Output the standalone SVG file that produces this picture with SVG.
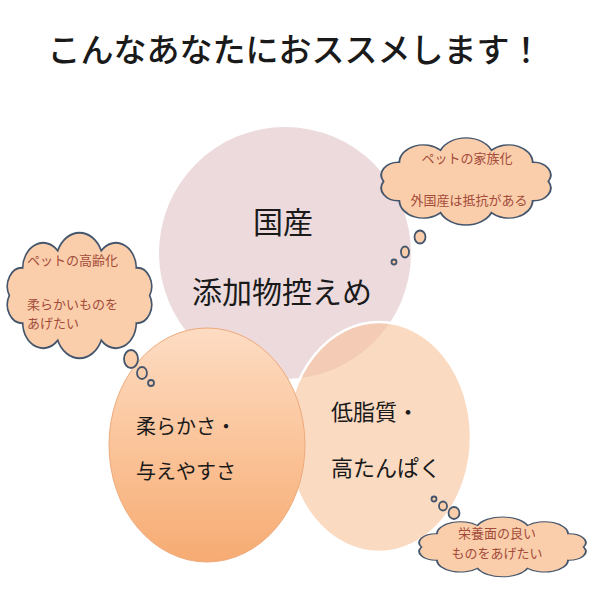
<svg xmlns="http://www.w3.org/2000/svg" width="600" height="600" viewBox="0 0 600 600">
<defs>
<style>
.cjk{font-family:"Noto Sans CJK JP","Noto Sans CJK SC",sans-serif;}
.main{fill:#1a1a1a;}
.ctext{fill:#a34b3a;font-size:13px;}
.cloud{fill:#fbceab;stroke:#45566c;stroke-width:2;vector-effect:non-scaling-stroke;}
.bub{fill:#fbceab;stroke:#45566c;stroke-width:1.8;}
</style>
<linearGradient id="gOrange" x1="0" y1="0" x2="0" y2="1">
<stop offset="0" stop-color="#fddcc3"/>
<stop offset="0.5" stop-color="#fbc49a"/>
<stop offset="1" stop-color="#f6ab72"/>
</linearGradient>
<path id="cloudShape" d="M186,60 A18,18 0 0 1 169.6,87 A25,25 0 0 1 126.6,103.7 A29,29 0 0 1 73.4,103.7 A25,25 0 0 1 30.4,87 A18,18 0 0 1 14,60 A18,18 0 0 1 30.4,33 A25,25 0 0 1 73.4,16.3 A29,29 0 0 1 126.6,16.3 A25,25 0 0 1 169.6,33 A18,18 0 0 1 186,60 Z"/>
</defs>
<rect width="600" height="600" fill="#ffffff"/>

<text class="cjk main" x="295" y="62" font-size="33" font-weight="500" text-anchor="middle">こんなあなたにおススメします！</text>

<g id="circle-top">
<circle cx="285" cy="253" r="126" fill="#ecdadd"/>
</g>
<g id="circle-right">
<ellipse cx="379" cy="437" rx="92" ry="115" fill="#f8c39d" fill-opacity="0.62" stroke="#ffffff" stroke-width="2.5"/>
</g>
<g id="circle-left">
<ellipse cx="207" cy="445" rx="98" ry="117" fill="url(#gOrange)" stroke="#eeaa7c" stroke-width="1"/>
</g>

<g id="label-top">
<text class="cjk main" x="283" y="233" font-size="30" text-anchor="middle">国産</text>
<text class="cjk main" x="282" y="303" font-size="30" text-anchor="middle">添加物控えめ</text>
</g>
<g id="label-left">
<text class="cjk main" x="136" y="434" font-size="20">柔らかさ・</text>
<text class="cjk main" x="136" y="479" font-size="20">与えやすさ</text>
</g>
<g id="label-right">
<text class="cjk main" x="331" y="420" font-size="22">低脂質・</text>
<text class="cjk main" x="331" y="476" font-size="22">高たんぱく</text>
</g>

<g id="cloud-top-right">
<use href="#cloudShape" class="cloud" transform="translate(370.2 138.7) scale(0.958 0.713)"/>
<ellipse class="bub" cx="420" cy="237" rx="5.5" ry="6.5"/>
<ellipse class="bub" cx="405" cy="252" rx="4" ry="5.5"/>
<circle class="bub" cx="394" cy="262" r="2.5"/>
<text class="cjk ctext" x="467" y="163" text-anchor="middle">ペットの家族化</text>
<text class="cjk ctext" x="469" y="205" text-anchor="middle">外国産は抵抗がある</text>
</g>

<g id="cloud-left">
<use href="#cloudShape" class="cloud" transform="translate(-2.1 234) scale(0.816 1.025)"/>
<ellipse class="bub" cx="131" cy="359" rx="7" ry="9"/>
<ellipse class="bub" cx="142" cy="373" rx="5" ry="6"/>
<circle class="bub" cx="151" cy="383" r="3"/>
<text class="cjk ctext" x="27" y="265">ペットの高齢化</text>
<text class="cjk ctext" x="27" y="309" font-size="12.5">柔らかいものを</text>
<text class="cjk ctext" x="27" y="328" font-size="12.5">あげたい</text>
</g>

<g id="cloud-bottom-right">
<use href="#cloudShape" class="cloud" transform="translate(408.3 517.5) scale(0.942 0.49)"/>
<circle class="bub" cx="434" cy="499" r="2.5"/>
<ellipse class="bub" cx="443" cy="506" rx="4" ry="4.5"/>
<ellipse class="bub" cx="454" cy="513" rx="5.5" ry="6"/>
<text class="cjk ctext" x="497" y="538" font-size="14" text-anchor="middle">栄養面の良い</text>
<text class="cjk ctext" x="497" y="558" font-size="14" text-anchor="middle">ものをあげたい</text>
</g>
</svg>
